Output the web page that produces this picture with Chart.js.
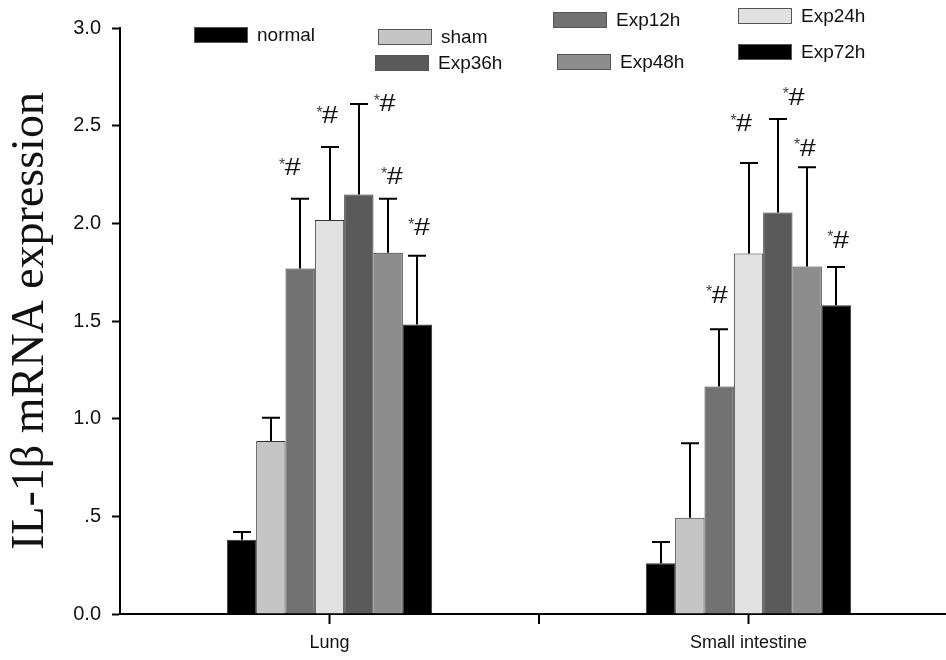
<!DOCTYPE html>
<html><head><meta charset="utf-8">
<script src="https://cdn.jsdelivr.net/npm/chart.js@4.4.1/dist/chart.umd.min.js"></script>
<style>
html,body{margin:0;padding:0;background:#fff;overflow:hidden;width:946px;height:660px}
#wrap{width:960px;height:660px;position:relative}
</style>
</head><body><div id="wrap"><canvas id="c" width="960" height="660"></canvas></div>
<script>
// ---- data ----
const categories = ['Lung', 'Small intestine'];
const seriesNames = ['normal', 'sham', 'Exp12h', 'Exp24h', 'Exp36h', 'Exp48h', 'Exp72h'];
const normal = [0.38, 0.26];
const sham   = [0.886, 0.493];
const exp12h = [1.769, 1.165];
const exp24h = [2.017, 1.846];
const exp36h = [2.147, 2.056];
const exp48h = [1.849, 1.779];
const exp72h = [1.482, 1.581];
const normalErr = [0.04, 0.109];
const shamErr   = [0.119, 0.381];
const exp12hErr = [0.357, 0.293];
const exp24hErr = [0.374, 0.463];
const exp36hErr = [0.464, 0.478];
const exp48hErr = [0.277, 0.508];
const exp72hErr = [0.352, 0.195];
const sigLung      = ['', '', '*#', '*#', '*#', '*#', '*#'];
const sigIntestine = ['', '', '*#', '*#', '*#', '*#', '*#'];
const yTickLabels = ['0.0', '.5', '1.0', '1.5', '2.0', '2.5', '3.0'];
const yTitle = 'IL-1\u03B2 mRNA expression';

const values = [normal, sham, exp12h, exp24h, exp36h, exp48h, exp72h];
const errors = [normalErr, shamErr, exp12hErr, exp24hErr, exp36hErr, exp48hErr, exp72hErr];
const sigs = [sigLung, sigIntestine];
const fills = ['#000000', '#c5c5c5', '#727272', '#e1e1e1', '#5a5a5a', '#8d8d8d', '#000000'];

const datasets = seriesNames.map((n, i) => ({
  label: n,
  data: values[i],
  errors: errors[i],
  backgroundColor: fills[i],
  borderColor: '#333333',
  borderWidth: 1,
  barPercentage: 1.0,
  categoryPercentage: 0.49
}));

const errorBars = {
  id: 'errorBars',
  afterDatasetsDraw(chart) {
    const ctx = chart.ctx, y = chart.scales.y;
    ctx.save();
    ctx.strokeStyle = '#000';
    ctx.lineWidth = 2;
    chart.data.datasets.forEach((ds, i) => {
      const meta = chart.getDatasetMeta(i);
      meta.data.forEach((el, j) => {
        const top = y.getPixelForValue(ds.data[j] + ds.errors[j]);
        const x = Math.round(el.x);
        ctx.beginPath();
        ctx.moveTo(x, el.y);
        ctx.lineTo(x, top);
        ctx.moveTo(x - 9, top);
        ctx.lineTo(x + 9, top);
        ctx.stroke();
      });
    });
    ctx.restore();
  }
};

const marks = {
  id: 'marks',
  afterDatasetsDraw(chart, args, opts) {
    const ctx = chart.ctx, y = chart.scales.y;
    const sx = 1.2;
    ctx.save();
    chart.data.datasets.forEach((ds, i) => {
      const meta = chart.getDatasetMeta(i);
      meta.data.forEach((el, j) => {
        const s = sigs[j][i];
        if (!s) return;
        const top = y.getPixelForValue(ds.data[j] + ds.errors[j]);
        const cx = el.x + opts.dx[j][i];
        const cy = top - opts.dy[j][i];
        ctx.font = '16px "Liberation Sans", Arial, sans-serif';
        const wa = ctx.measureText(s[0]).width;
        ctx.font = '24px "Liberation Sans", Arial, sans-serif';
        const wb = ctx.measureText(s[1]).width * sx;
        const x0 = cx - (wa + wb) / 2;
        ctx.textBaseline = 'alphabetic';
        ctx.textAlign = 'left';
        ctx.fillStyle = '#444';
        ctx.font = '16px "Liberation Sans", Arial, sans-serif';
        ctx.fillText(s[0], x0, cy + 3);
        ctx.fillStyle = '#111';
        ctx.save();
        ctx.translate(x0 + wa - 0.5, cy + 8.5);
        ctx.scale(sx, 1);
        ctx.font = '24px "Liberation Sans", Arial, sans-serif';
        ctx.fillText(s[1], 0, 0);
        ctx.restore();
      });
    });
    ctx.restore();
  }
};

const midTick = {
  id: 'midTick',
  afterDraw(chart) {
    const x = chart.scales.x, ctx = chart.ctx;
    const px = Math.round((x.getPixelForTick(0) + x.getPixelForTick(1)) / 2);
    ctx.save();
    ctx.strokeStyle = '#000';
    ctx.lineWidth = 2;
    ctx.beginPath();
    ctx.moveTo(px, chart.chartArea.bottom);
    ctx.lineTo(px, chart.chartArea.bottom + 10);
    ctx.stroke();
    ctx.restore();
  }
};

const customLegend = {
  id: 'customLegend',
  afterDraw(chart, args, opts) {
    const ctx = chart.ctx;
    ctx.save();
    chart.data.datasets.forEach((ds, i) => {
      const [bx, cy] = opts.pos[i];
      ctx.fillStyle = ds.backgroundColor;
      ctx.fillRect(bx, cy - 8, 54, 16);
      ctx.strokeStyle = '#555';
      ctx.lineWidth = 1;
      ctx.strokeRect(bx + 0.5, cy - 7.5, 53, 15);
      ctx.fillStyle = '#111';
      ctx.font = '19px "Liberation Sans", Arial, sans-serif';
      ctx.textBaseline = 'middle';
      ctx.textAlign = 'left';
      ctx.fillText(ds.label, bx + 63, cy + 1);
    });
    ctx.restore();
  }
};

new Chart(document.getElementById('c'), {
  type: 'bar',
  data: { labels: categories, datasets },
  plugins: [errorBars, marks, midTick, customLegend],
  options: {
    responsive: false,
    animation: false,
    devicePixelRatio: 1,
    layout: { padding: { top: 28, right: 2, bottom: 0, left: 0 } },
    plugins: {
      legend: { display: false },
      tooltip: { enabled: false },
      marks: {
        dx: [[0, 0, -10, -2, 26, 4, 2], [0, 0, -2, -7, 16, -2, 2]],
        dy: [[0, 0, 32, 32, 1, 23, 29], [0, 0, 35, 40, 23, 20, 28]]
      },
      customLegend: {
        pos: [[194, 35], [378, 37], [553, 20], [738, 16], [375, 63], [557, 62], [738, 52]]
      }
    },
    scales: {
      x: {
        offset: true,
        grid: { offset: false, drawOnChartArea: false, drawTicks: true, tickLength: 10, tickWidth: 2, tickColor: '#000' },
        border: { display: true, color: '#000', width: 2 },
        ticks: { color: '#111', font: { family: '"Liberation Sans", Arial, sans-serif', size: 18 }, padding: 8, maxRotation: 0 },
        afterFit(s) { s.height = 46; }
      },
      y: {
        min: 0, max: 3,
        ticks: {
          stepSize: 0.5,
          color: '#111',
          padding: 11,
          font: { family: '"Liberation Sans", Arial, sans-serif', size: 20 },
          callback: (v, i) => yTickLabels[i]
        },
        grid: { drawOnChartArea: false, drawTicks: true, tickLength: 8, tickWidth: 2, tickColor: '#000' },
        border: { display: true, color: '#000', width: 2 },
        title: {
          display: true,
          text: yTitle,
          color: '#111',
          font: { family: '"Liberation Serif", "Times New Roman", serif', size: 46 },
          padding: { top: 3, bottom: 0 }
        },
        afterFit(s) { s.width = 120; }
      }
    }
  }
});
</script>
</body></html>
